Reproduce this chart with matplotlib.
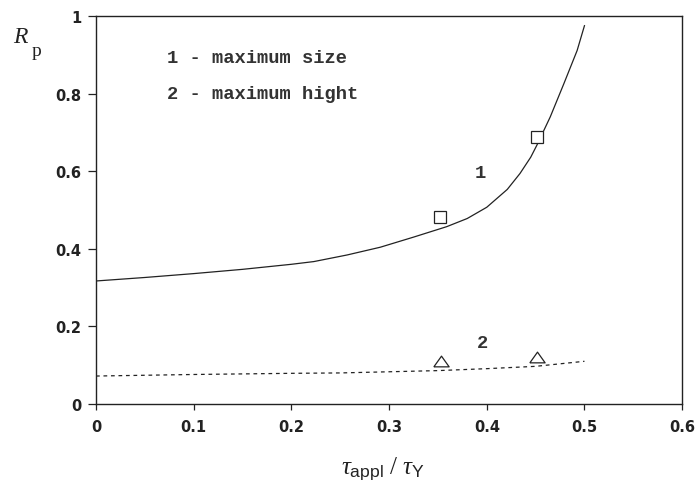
import matplotlib.pyplot as plt

# curve 1 - maximum size (solid)
x1 = [0.0, 0.05, 0.1, 0.15, 0.2, 0.223, 0.257, 0.291, 0.325, 0.359, 0.380, 0.400,
      0.421, 0.434, 0.445, 0.4515, 0.465, 0.479, 0.4925, 0.50]
y1 = [0.317, 0.326, 0.336, 0.347, 0.360, 0.367, 0.384, 0.404, 0.430, 0.457, 0.478, 0.507,
      0.553, 0.594, 0.636, 0.668, 0.740, 0.826, 0.911, 0.975]
# curve 2 - maximum hight (dashed)
x2 = [0.0, 0.1, 0.2, 0.25, 0.3, 0.35, 0.4, 0.45, 0.5]
y2 = [0.072, 0.076, 0.079, 0.080, 0.083, 0.086, 0.091, 0.097, 0.110]
# measured points
xs_sq = [0.352, 0.451]
ys_sq = [0.482, 0.689]
xs_tri = [0.353, 0.451]
ys_tri = [0.111, 0.122]

xticks = [0, 0.1, 0.2, 0.3, 0.4, 0.5, 0.6]
xticklabels = ['0', '0.1', '0.2', '0.3', '0.4', '0.5', '0.6']
yticks = [0, 0.2, 0.4, 0.6, 0.8, 1]
yticklabels = ['0', '0.2', '0.4', '0.6', '0.8', '1']

plt.rcParams['mathtext.fontset'] = 'custom'
plt.rcParams['mathtext.rm'] = 'Liberation Serif'
plt.rcParams['mathtext.it'] = 'Liberation Serif:italic'
plt.rcParams['mathtext.sf'] = 'Liberation Sans'

fig = plt.figure(figsize=(6.97, 4.85), dpi=100)
ax = fig.add_axes([0.1377, 0.165, 0.841, 0.800])

ink = '#222222'
tri = [(-1, -0.7), (1, -0.7), (0, 0.7), (-1, -0.7)]
ax.plot(x1, y1, color=ink, lw=0.9)
ax.plot(x2, y2, color=ink, lw=0.9, linestyle=(0, (3, 3)))
ax.plot(xs_sq, ys_sq, linestyle='none', marker='s', ms=8, mfc='white', mec=ink, mew=0.9)
ax.plot(xs_tri, ys_tri, linestyle='none', marker=tri, ms=11, mfc='white', mec=ink, mew=0.9)

lab_font = 'Liberation Mono'
txt = '#333333'
ax.text(0.393, 0.596, '1', fontsize=13.5, family=lab_font, weight='bold', color=txt, ha='center', va='center')
ax.text(0.396, 0.158, '2', fontsize=13.5, family=lab_font, weight='bold', color=txt, ha='center', va='center')
ax.text(0.073, 0.893, '1 - maximum size', fontsize=13.5, family=lab_font, weight='bold', color=txt, va='center')
ax.text(0.073, 0.800, '2 - maximum hight', fontsize=13.5, family=lab_font, weight='bold', color=txt, va='center')

ax.set_xlim(0, 0.6)
ax.set_ylim(0, 1)
ax.set_xticks(xticks)
ax.set_xticklabels(xticklabels)
ax.set_yticks(yticks)
ax.set_yticklabels(yticklabels)
for lab in ax.get_xticklabels() + ax.get_yticklabels():
    lab.set_fontfamily('DejaVu Sans')
    lab.set_fontweight('bold')
    lab.set_fontsize(10.5)
    lab.set_color(ink)
ax.tick_params(axis='x', direction='out', length=4, pad=7, width=0.9, color=ink)
ax.tick_params(axis='y', direction='out', length=5.5, pad=5, width=0.9, color=ink)
for s in ax.spines.values():
    s.set_linewidth(1.0)
    s.set_color(ink)

# y label: italic R with an upright, nearly full size p
fig.text(0.019, 0.922, 'R', fontsize=17, family='Liberation Serif', style='italic', color=ink, ha='left', va='center')
fig.text(0.046, 0.893, 'p', fontsize=14, family='Liberation Serif', color=ink, ha='left', va='center')
fig.text(0.549, 0.032, r'$\tau_{\mathsf{appl}}\ /\ \tau_{\mathsf{Y}}$', fontsize=18, color=ink, ha='center', va='center')

fig.savefig('out.png', dpi=100)
